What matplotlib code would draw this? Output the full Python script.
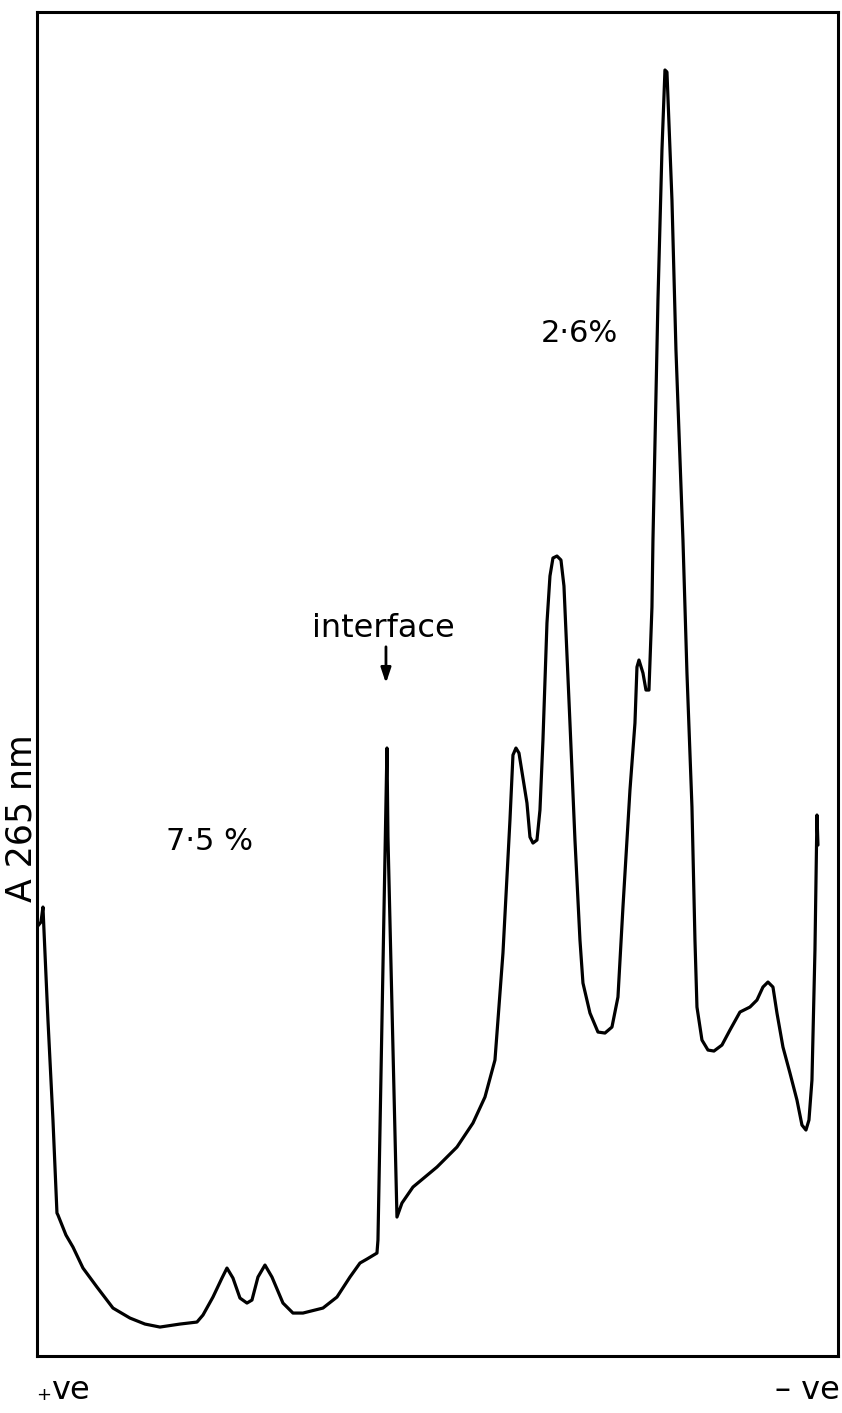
import matplotlib
matplotlib.use("Agg")
import matplotlib.pyplot as plt

# Densitometer scan of the gel (A265) from the + electrode to the - electrode.
# distance along the gel (mm) and absorbance (arbitrary units)
distance_mm = [
    0.0, 0.4, 0.6, 0.7, 1.1, 1.6, 2.0, 2.1, 2.9, 3.6, 4.6, 6.0, 7.6, 9.3,
    10.8, 12.3, 14.3, 16.0, 16.6, 17.6, 18.5, 19.0, 19.6, 20.3, 21.0, 21.5,
    22.1, 22.8, 23.5, 24.6, 25.6, 26.6, 28.6, 30.0, 31.3, 32.3, 33.0, 34.0,
    34.1, 35.0, 35.1, 36.0, 36.5, 37.6, 40.0, 42.0, 43.6, 44.8, 45.8, 46.1,
    46.6, 47.3, 47.6, 47.9, 48.2, 49.0, 49.3, 49.6, 50.0, 50.3, 50.6, 51.0,
    51.3, 51.6, 52.0, 52.4, 52.7, 53.3, 53.8, 54.3, 54.6, 55.3, 56.1, 56.8, 57.5,
    58.1, 58.6, 59.3, 59.8, 60.0, 60.2, 60.6, 60.9, 61.2, 61.5, 61.6, 62.1,
    62.5, 62.8, 63.0, 63.5, 63.9, 64.6, 65.0, 65.5, 65.8, 66.0, 66.5, 67.1,
    67.7, 68.5, 69.3, 70.3, 71.3, 72.0, 72.6, 73.1, 73.6, 74.0, 74.6, 75.3,
    76.0, 76.5, 76.9, 77.2, 77.5, 77.8, 78.0, 78.1,
]
absorbance = [
    0.429, 0.434, 0.449, 0.426, 0.336, 0.236, 0.143, 0.141, 0.121, 0.109,
    0.088, 0.069, 0.048, 0.038, 0.032, 0.029, 0.032, 0.034, 0.041, 0.059,
    0.078, 0.088, 0.078, 0.058, 0.053, 0.056, 0.079, 0.091, 0.079, 0.053,
    0.043, 0.043, 0.048, 0.059, 0.079, 0.093, 0.097, 0.103, 0.116, 0.608,
    0.519, 0.139, 0.153, 0.169, 0.189, 0.209, 0.233, 0.259, 0.296, 0.336,
    0.403, 0.536, 0.601, 0.608, 0.603, 0.553, 0.519, 0.513, 0.516, 0.546,
    0.616, 0.733, 0.780, 0.798, 0.800, 0.796, 0.770, 0.633, 0.516, 0.416, 0.373,
    0.343, 0.324, 0.323, 0.329, 0.359, 0.449, 0.566, 0.633, 0.689, 0.696,
    0.683, 0.666, 0.666, 0.749, 0.816, 1.056, 1.206, 1.286, 1.284, 1.156,
    1.006, 0.816, 0.683, 0.549, 0.416, 0.349, 0.316, 0.306, 0.305, 0.311,
    0.326, 0.344, 0.349, 0.356, 0.369, 0.374, 0.369, 0.343, 0.309, 0.283,
    0.256, 0.231, 0.226, 0.236, 0.276, 0.406, 0.541, 0.511,
]

interface_mm = 34.9
gel_labels = ["7·5 %", "2·6%"]
y_label = "A 265 nm"

fig = plt.figure(figsize=(8.42, 14.13), dpi=100)
ax = fig.add_axes([0.0439, 0.0403, 0.9513, 0.9512])
ax.plot(distance_mm, absorbance, color="black", lw=2.3,
        solid_joinstyle="round", solid_capstyle="round")
ax.set_xlim(0, 80.1)
ax.set_ylim(0, 1.344)
ax.set_xticks([])
ax.set_yticks([])
for side in ax.spines.values():
    side.set_linewidth(2.2)
    side.set_color("black")

# annotations
ax.annotate("", xy=(interface_mm, 0.670), xytext=(interface_mm, 0.712),
            arrowprops=dict(arrowstyle="-|>,head_length=0.9,head_width=0.3",
                            color="black", lw=2))
ax.text(interface_mm - 0.3, 0.728, "interface", fontsize=23, ha="center",
        va="center")
ax.text(17.3, 0.515, gel_labels[0], fontsize=22, ha="center", va="center")
ax.text(54.2, 1.023, gel_labels[1], fontsize=22, ha="center", va="center")

fig.text(0.026, 0.421, y_label, rotation=90, fontsize=25, ha="center",
         va="center")
# electrode signs under the two ends of the gel
fig.text(0.043, 0.013, "+", fontsize=13, ha="left", va="center")
fig.text(0.061, 0.016, "ve", fontsize=23, ha="left", va="center")
fig.text(0.998, 0.016, "– ve", fontsize=23, ha="right", va="center")

fig.savefig("out.png", dpi=100, facecolor="white")
